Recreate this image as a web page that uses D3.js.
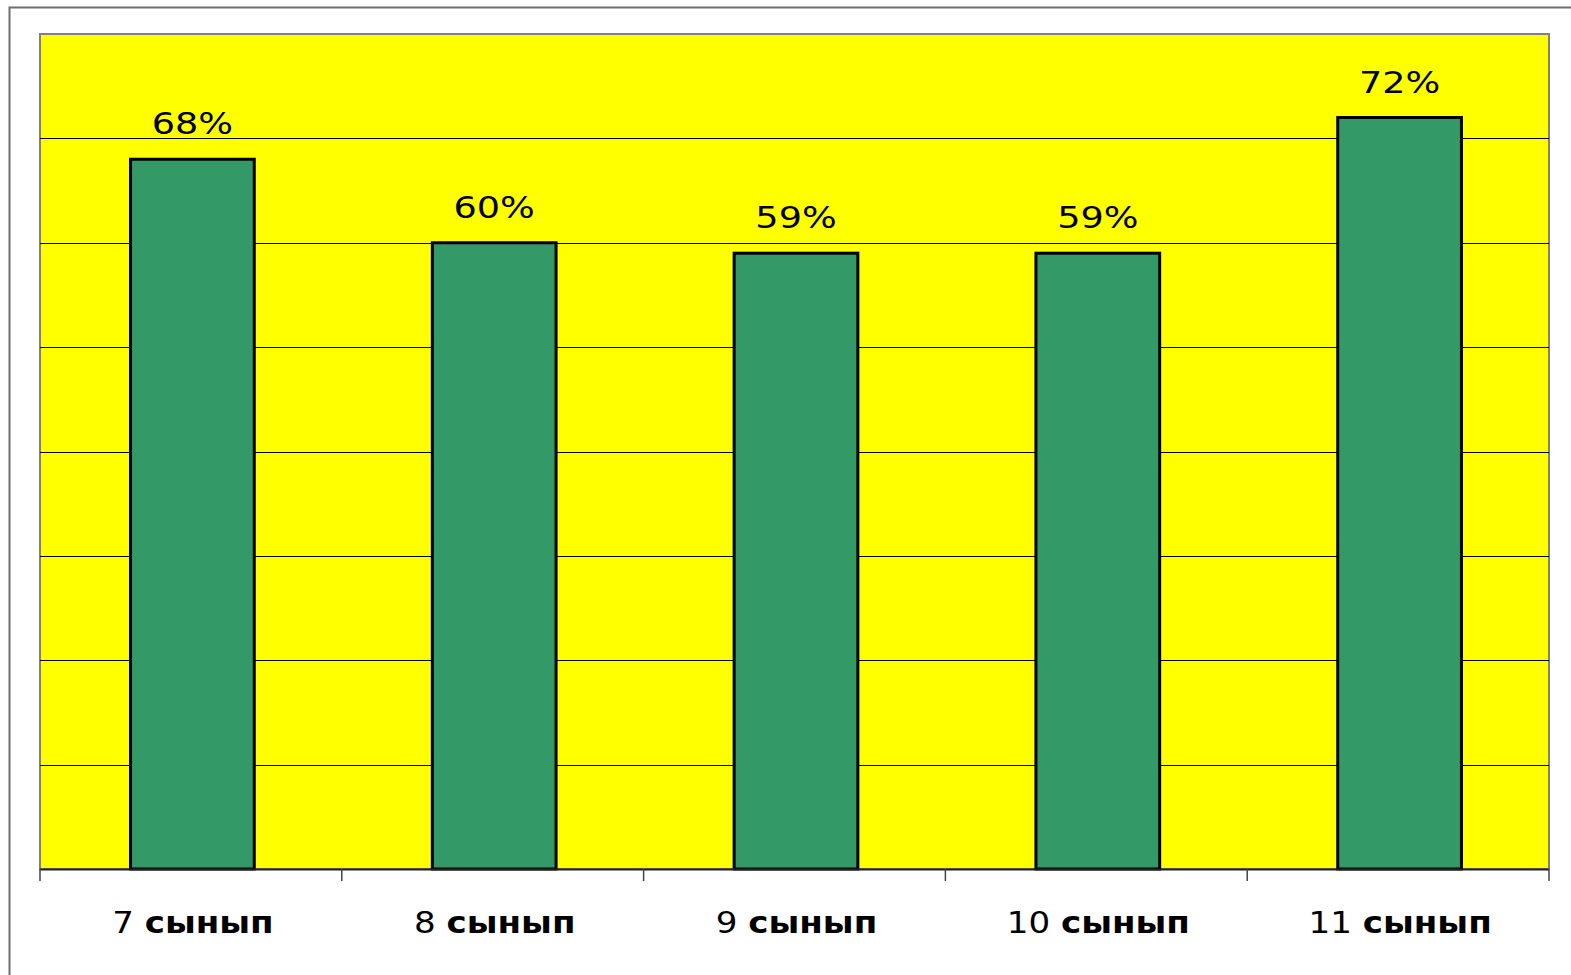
<!DOCTYPE html>
<html><head><meta charset="utf-8">
<script src="https://cdn.jsdelivr.net/npm/d3@7"></script>
<style>body{margin:0;background:#fff}svg{display:block}</style>
</head><body>
<script>
const categories = ["7", "8", "9", "10", "11"];
const categorySuffix = "сынып";
const values = [0.68, 0.60, 0.59, 0.59, 0.72];
const valueLabels = ["68%", "60%", "59%", "59%", "72%"];
const yTicks = [0, 0.1, 0.2, 0.3, 0.4, 0.5, 0.6, 0.7, 0.8];

(function () {
const W = 1571, H = 975;
const pL = 40, pR = 1549, pT = 34, pB = 869;
const svg = d3.select("body").append("svg").attr("width", W).attr("height", H);

// outer frame
svg.append("path").attr("d", `M9.5,${H} V7.5 H${W}`).attr("fill", "none").attr("stroke", "#6e6e6e").attr("stroke-width", 2);

const x = d3.scaleBand().domain(categories).range([pL, pR]).paddingInner(0.59).paddingOuter(0.295);
const xb = d3.scaleBand().domain(categories).range([pL, pR]);
const y = d3.scaleLinear().domain([0, 0.8]).range([pB, pT]);

// plot area
svg.append("rect").attr("x", pL).attr("y", pT).attr("width", pR - pL).attr("height", pB - pT)
  .attr("fill", "#ffff00").attr("stroke", "#808080").attr("stroke-width", 2);

// gridlines
svg.append("g").selectAll("line").data(yTicks.slice(1, -1)).join("line")
  .attr("x1", pL).attr("x2", pR).attr("y1", d => Math.round(y(d)) + 0.5).attr("y2", d => Math.round(y(d)) + 0.5)
  .attr("stroke", "#000").attr("stroke-width", 1);

// bars
svg.append("g").selectAll("rect").data(values).join("rect")
  .attr("x", (d, i) => x(categories[i]) + 1.5)
  .attr("width", x.bandwidth())
  .attr("y", d => y(d))
  .attr("height", d => pB - y(d))
  .attr("fill", "#339966").attr("stroke", "#000").attr("stroke-width", 3);

// x axis line and ticks
svg.append("line").attr("x1", pL).attr("x2", pR).attr("y1", pB + 0.5).attr("y2", pB + 0.5).attr("stroke", "#222").attr("stroke-width", 2);
const tickXs = categories.map(c => xb(c)).concat([pR]);
svg.append("g").selectAll("line").data(tickXs).join("line")
  .attr("x1", d => d).attr("x2", d => d).attr("y1", pB).attr("y2", pB + 12)
  .attr("stroke", "#444").attr("stroke-width", 1.5);

// value labels
svg.append("g").selectAll("text").data(values).join("text")
  .attr("transform", (d, i) => `translate(${x(categories[i]) + 1.5 + x.bandwidth() / 2},${y(d) - 25}) scale(1.18,1)`)
  .attr("text-anchor", "middle")
  .attr("font-family", "DejaVu Sans, Verdana, sans-serif")
  .attr("font-size", 31)
  .attr("fill", "#000")
  .text((d, i) => valueLabels[i]);

// category labels
const cl = svg.append("g").selectAll("text").data(categories).join("text")
  .attr("transform", d => `translate(${xb(d) + xb.bandwidth() / 2 + 2},933) scale(1.1,1)`)
  .attr("text-anchor", "middle")
  .attr("font-family", "DejaVu Sans, Verdana, sans-serif")
  .attr("font-size", 31)
  .attr("fill", "#000");
cl.append("tspan").text(d => d + " ");
cl.append("tspan").attr("font-weight", "bold").text(categorySuffix);
})();
</script>
</body></html>
